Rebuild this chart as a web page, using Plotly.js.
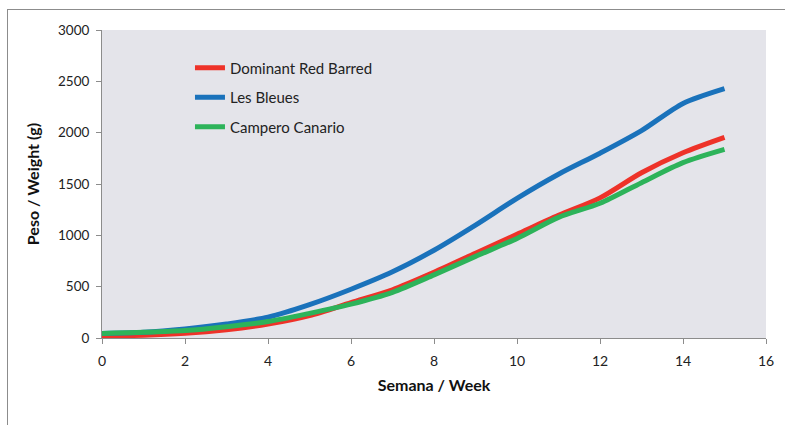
<!DOCTYPE html>
<html>
<head>
<meta charset="utf-8">
<script src="https://cdn.plot.ly/plotly-3.0.1.min.js"></script>
<style>
  html, body { margin: 0; padding: 0; background: #fff; }
  #wrap { position: relative; width: 785px; height: 425px; overflow: hidden; }
  #frame { position: absolute; left: 7px; top: 9px; width: 800px; height: 430px;
           border-left: 1px solid #8c8c8c; border-top: 1px solid #8c8c8c; pointer-events: none; }
  #chart { position: absolute; left: 0; top: 0; width: 785px; height: 425px; }
</style>
</head>
<body>
<div id="wrap">
  <div id="chart"></div>
  <div id="frame"></div>
</div>
<script>
const weeks = [0, 1, 2, 3, 4, 5, 6, 7, 8, 9, 10, 11, 12, 13, 14, 15];
const dominantRedBarred = [23, 28, 45, 80, 135, 218, 345, 470, 640, 825, 1010, 1195, 1365, 1610, 1805, 1955];
const lesBleues = [45, 56, 88, 136, 203, 325, 475, 645, 855, 1100, 1360, 1595, 1800, 2020, 2285, 2430];
const camperoCanario = [45, 55, 72, 110, 160, 240, 330, 445, 615, 795, 970, 1175, 1312, 1513, 1708, 1837];
const seriesNames = ["Dominant Red Barred", "Les Bleues", "Campero Canario"];
const seriesColors = ["#ee3229", "#1a72bb", "#2db35a"];
const yTicks = [0, 500, 1000, 1500, 2000, 2500, 3000];
const xTicks = [0, 2, 4, 6, 8, 10, 12, 14, 16];

const seriesValues = [dominantRedBarred, lesBleues, camperoCanario];
const traces = seriesValues.map((vals, i) => ({
  x: weeks,
  y: vals,
  type: "scatter",
  mode: "lines",
  name: seriesNames[i],
  legendgroup: "g" + i,
  line: { color: seriesColors[i], width: 5, shape: "spline", smoothing: 0.8 },
  hoverinfo: "x+y+name"
}));

const fontFam = "Lato, 'Open Sans', sans-serif";
const layout = {
  width: 785,
  height: 425,
  margin: { l: 102, r: 19, t: 30, b: 87 },
  paper_bgcolor: "rgba(0,0,0,0)",
  plot_bgcolor: "#e4e4ea",
  font: { family: fontFam, size: 13, color: "#222" },
  showlegend: true,
  legend: {
    x: 0.1325, y: 0.93, xanchor: "left", yanchor: "top",
    bgcolor: "rgba(0,0,0,0)",
    font: { family: fontFam, size: 15, color: "#222" },
    tracegroupgap: 7,
    traceorder: "grouped"
  },
  xaxis: {
    range: [0, 16],
    tickvals: xTicks,
    ticktext: xTicks.map(String),
    showgrid: false, zeroline: false,
    showline: true, linecolor: "#8c8c8c", linewidth: 1,
    ticks: "outside", ticklen: 5, tickcolor: "#8c8c8c",
    ticklabelstandoff: 5,
    tickfont: { family: fontFam, size: 14, color: "#222" },
    title: { text: "<b>Semana / Week</b>", font: { family: fontFam, size: 16, color: "#111" }, standoff: 12 },
    fixedrange: true
  },
  yaxis: {
    range: [0, 3000],
    tickvals: yTicks,
    ticktext: yTicks.map(String),
    showgrid: false, zeroline: false,
    showline: true, linecolor: "#8c8c8c", linewidth: 1,
    ticks: "outside", ticklen: 5, tickcolor: "#8c8c8c",
    ticklabelstandoff: 4,
    tickfont: { family: fontFam, size: 13.5, color: "#222" },
    title: { text: "<b>Peso / Weight (g)</b>", font: { family: fontFam, size: 16, color: "#111" }, standoff: 14 },
    fixedrange: true
  }
};

Plotly.newPlot("chart", traces, layout, { displayModeBar: false, staticPlot: true });
</script>
</body>
</html>
